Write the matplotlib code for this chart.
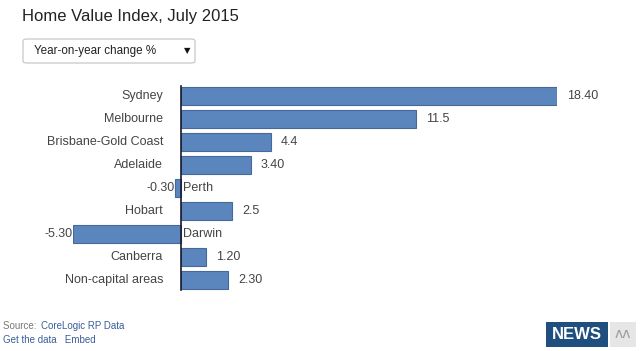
import matplotlib.pyplot as plt
from matplotlib.patches import FancyBboxPatch, Rectangle

plt.rcParams['font.family'] = ['Liberation Sans', 'DejaVu Sans']

regions = ['Sydney', 'Melbourne', 'Brisbane-Gold Coast', 'Adelaide', 'Perth',
           'Hobart', 'Darwin', 'Canberra', 'Non-capital areas']
values = [18.40, 11.5, 4.4, 3.40, -0.30, 2.5, -5.30, 1.20, 2.30]
value_labels = ['18.40', '11.5', '4.4', '3.40', '-0.30', '2.5', '-5.30', '1.20', '2.30']

W, H = 640, 351
fig = plt.figure(figsize=(W / 100, H / 100), dpi=100)
fig.patch.set_facecolor('white')

# axes placed so that x=0 sits at pixel 181 and rows step ~23 px
x0, x1 = 73, 557
top, bottom = 84, 292
ax = fig.add_axes([x0 / W, 1 - bottom / H, (x1 - x0) / W, (bottom - top) / H])
ax.set_xlim(-5.3, 18.4)
ax.set_ylim(len(regions) - 0.5, -0.5)
ax.axis('off')

bar_col = '#5b86bd'
ypos = list(range(len(regions)))
ax.barh(ypos, values, height=0.78, color=bar_col, edgecolor='#46699a', linewidth=0.8)
ax.axvline(0, ymin=0.01, ymax=0.99, color='#1a1a2e', lw=1.2)

px = 23.7 / (x1 - x0)  # data units per pixel
txt_col = '#444444'
for y, name, v, lab in zip(ypos, regions, values, value_labels):
    if v >= 0:
        ax.text(-18 * px, y, name, ha='right', va='center', fontsize=9, color=txt_col)
        ax.text(v + 10 * px, y, lab, ha='left', va='center', fontsize=9, color=txt_col)
    else:
        ax.text(2 * px, y, name, ha='left', va='center', fontsize=9, color=txt_col)
        ax.text(v, y, lab, ha='right', va='center', fontsize=9, color=txt_col, clip_on=False)

# title
fig.text(22 / W, 1 - 16 / H, 'Home Value Index, July 2015', fontsize=12,
         color='#222222', va='center', ha='left')

# dropdown box
box = FancyBboxPatch((23 / W, 1 - 63 / H), 172 / W, 24 / H,
                     boxstyle='round,pad=0,rounding_size=0.006',
                     transform=fig.transFigure, facecolor='white',
                     edgecolor='#c8c8c8', lw=0.9)
fig.patches.append(box)
fig.text(34 / W, 1 - 51 / H, 'Year-on-year change %', fontsize=8.4,
         color='#222222', va='center', ha='left')
fig.text(187 / W, 1 - 51 / H, '\u25bc', fontsize=6, color='#111111',
         va='center', ha='center', family=['DejaVu Sans'])

# footer
fig.text(3 / W, 1 - 326 / H, 'Source: ', fontsize=7, color='#777777', va='center')
fig.text(41 / W, 1 - 326 / H, 'CoreLogic RP Data', fontsize=7, color='#3a5f9a', va='center')
fig.text(3 / W, 1 - 340 / H, 'Get the data   Embed', fontsize=7, color='#3a5f9a', va='center')

# NEWS logo
fig.patches.append(Rectangle((546 / W, 1 - 347 / H), 62 / W, 25 / H,
                             transform=fig.transFigure, facecolor='#1e4f7e', edgecolor='none'))
fig.text(577 / W, 1 - 334.5 / H, 'NEWS', fontsize=12, fontweight='bold',
         color='white', va='center', ha='center')
fig.patches.append(Rectangle((610 / W, 1 - 347 / H), 26 / W, 25 / H,
                             transform=fig.transFigure, facecolor='#e6e6e6', edgecolor='none'))
fig.text(623 / W, 1 - 334.5 / H, '\u028c\u028c', fontsize=10, color='#9a9a9a',
         va='center', ha='center', family=['DejaVu Sans'])

fig.savefig('out.png', dpi=100)
